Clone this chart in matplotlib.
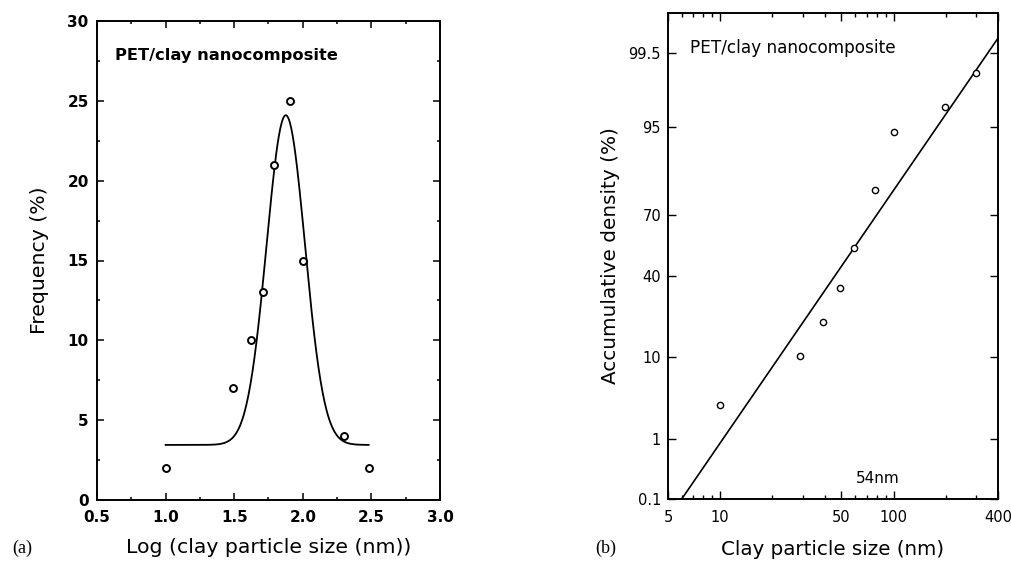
#!/usr/bin/env python3
from statistics import NormalDist

import matplotlib

matplotlib.use("Agg")
import matplotlib.pyplot as plt
import numpy as np
from matplotlib.ticker import (FixedFormatter, FixedLocator, FormatStrFormatter,
                               LogLocator, MultipleLocator, NullFormatter)


# panel (a): frequency vs log(size)
log_size = [1.0, 1.49, 1.62, 1.71, 1.79, 1.91, 2.0, 2.3, 2.48]
frequency = [2, 7, 10, 13, 21, 25, 15, 4, 2]
# gaussian fit: baseline, amplitude, centre, width
fit_y0, fit_amp, fit_xc, fit_w = 3.45, 20.65, 1.876, 0.14
fit_range = [1.0, 2.48]

# panel (b): accumulative density on probability axis
size_nm = [10, 29, 39, 49, 59, 78, 100, 198, 298]
cum_density = [2.9, 10.2, 20, 34, 54, 80, 94.3, 97.1, 99.0]
line_x = [6.0, 400.0]
line_y = [0.1, 99.72]
prob_ticks = [0.1, 1, 10, 40, 70, 95, 99.5]
prob_labels = ["0.1", "1", "10", "40", "70", "95", "99.5"]
size_ticks = [5, 10, 50, 100, 400]

plt.rcParams["font.family"] = ["DejaVu Sans"]

_nd = NormalDist()
_ppf = np.vectorize(_nd.inv_cdf, otypes=[float])
_cdf = np.vectorize(_nd.cdf, otypes=[float])


def probit(p):
    p = np.clip(np.asarray(p, dtype=float) / 100.0, 1e-9, 1 - 1e-9)
    return _ppf(p)


def inv_probit(z):
    return _cdf(np.asarray(z, dtype=float)) * 100.0


fig = plt.figure(figsize=(10.12, 5.63), dpi=100)
# pixel boxes: (a) 97..440 x 21..500, (b) 668..998 x 13..499
ax1 = fig.add_axes([97 / 1012, 1 - 500 / 563, 343 / 1012, 479 / 563])
ax2 = fig.add_axes([668 / 1012, 1 - 499 / 563, 330 / 1012, 486 / 563])

# ---- (a)
xs = np.linspace(fit_range[0], fit_range[1], 300)
ys = fit_y0 + fit_amp * np.exp(-((xs - fit_xc) ** 2) / (2 * fit_w ** 2))
ax1.plot(xs, ys, color="black", lw=1.3)
ax1.plot(log_size, frequency, "o", mfc="white", mec="black", ms=5, mew=1.4)
ax1.set_xlim(0.5, 3.0)
ax1.set_ylim(0, 30)
ax1.xaxis.set_major_locator(MultipleLocator(0.5))
ax1.xaxis.set_minor_locator(MultipleLocator(0.25))
ax1.yaxis.set_major_locator(MultipleLocator(5))
ax1.yaxis.set_minor_locator(MultipleLocator(2.5))
ax1.xaxis.set_major_formatter(FormatStrFormatter("%.1f"))
ax1.tick_params(which="both", direction="in", top=True, right=True, labelsize=11, width=1.1)
ax1.tick_params(which="major", length=5)
ax1.tick_params(which="minor", length=2.5)
ax1.tick_params(axis="x", pad=7)
ax1.tick_params(axis="y", pad=6)
for lab in ax1.get_xticklabels() + ax1.get_yticklabels():
    lab.set_fontweight("bold")
ax1.set_xlabel("Log (clay particle size (nm))", fontsize=14.7, labelpad=9.5)
ax1.set_ylabel("Frequency (%)", fontsize=14.7, labelpad=13)
ax1.text(0.053, 0.928, "PET/clay nanocomposite", transform=ax1.transAxes,
         fontsize=11.7, fontweight="bold", va="center")
for s in ax1.spines.values():
    s.set_linewidth(1.4)

# ---- (b)
ax2.set_xscale("log")
ax2.set_yscale("function", functions=(probit, inv_probit))
ax2.plot(line_x, line_y, color="black", lw=1.2)
ax2.plot(size_nm, cum_density, "o", mfc="white", mec="black", ms=4.5, mew=1.0)
ax2.set_xlim(5, 400)
ax2.set_ylim(0.1, 99.9)
ax2.xaxis.set_major_locator(FixedLocator(size_ticks))
ax2.xaxis.set_major_formatter(FixedFormatter([str(v) for v in size_ticks]))
ax2.xaxis.set_minor_locator(LogLocator(base=10, subs=np.arange(2, 10)))
ax2.xaxis.set_minor_formatter(NullFormatter())
ax2.yaxis.set_major_locator(FixedLocator(prob_ticks))
ax2.yaxis.set_major_formatter(FixedFormatter(prob_labels))
ax2.yaxis.set_minor_locator(FixedLocator([]))
ax2.tick_params(which="both", direction="in", top=True, right=True, labelsize=10.5, width=1.0)
ax2.tick_params(which="major", length=6)
ax2.tick_params(which="minor", length=3)
ax2.tick_params(axis="x", pad=8)
ax2.tick_params(axis="y", pad=5)
ax2.set_xlabel("Clay particle size (nm)", fontsize=14.3, labelpad=10.5)
ax2.set_ylabel("Accumulative density (%)", fontsize=14.4, labelpad=6)
ax2.text(0.066, 0.929, "PET/clay nanocomposite", transform=ax2.transAxes,
         fontsize=12.2, va="center")
ax2.text(0.57, 0.043, "54nm", transform=ax2.transAxes, fontsize=11, va="center")
for s in ax2.spines.values():
    s.set_linewidth(1.4)

fig.text(0.012, 0.026, "(a)", fontsize=13, family="Liberation Serif", va="center")
fig.text(0.588, 0.026, "(b)", fontsize=13, family="Liberation Serif", va="center")

fig.savefig("out.png", dpi=100)
